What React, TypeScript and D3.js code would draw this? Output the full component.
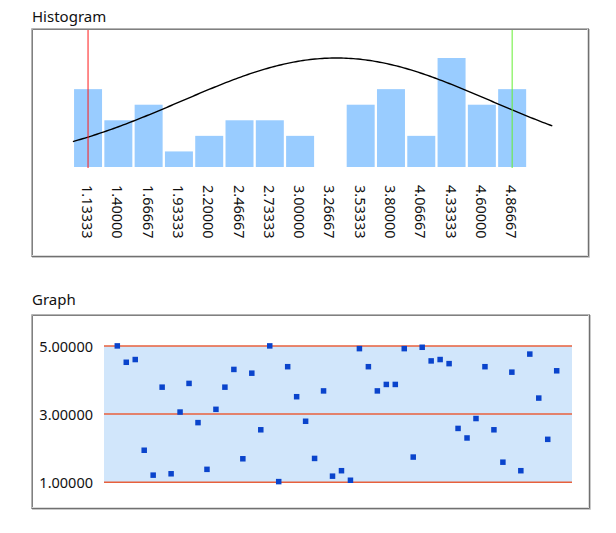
import React from "react";
import * as d3 from "d3";

// Histogram data
const binLabels = ["1.13333","1.40000","1.66667","1.93333","2.20000","2.46667","2.73333","3.00000","3.26667","3.53333","3.80000","4.06667","4.33333","4.60000","4.86667"];
const binCenters = [1.13333,1.4,1.66667,1.93333,2.2,2.46667,2.73333,3.0,3.26667,3.53333,3.8,4.06667,4.33333,4.6,4.86667];
const binCounts = [5,3,4,1,2,3,3,2,0,4,5,2,7,4,5];
const curveMean = 3.32;
const curveSd = 1.36;
const curveRange = [1.0, 5.22];
const lowerLimit = 1.13333;
const upperLimit = 4.86667;

// Graph data
const graphValues = [5.00,4.52,4.60,1.94,1.21,3.79,1.25,3.06,3.90,2.75,
  1.38,3.14,3.79,4.31,1.69,4.20,2.54,5.00,1.02,4.39,
  3.51,2.79,1.70,3.68,1.18,1.34,1.06,4.92,4.39,3.68,
  3.87,3.87,4.92,1.74,4.96,4.56,4.60,4.48,2.58,2.30,
  2.87,4.39,2.54,1.59,4.23,1.34,4.76,3.47,2.26,4.27];
const graphTicks = [1, 3, 5];
const graphTickLabels = ["1.00000", "3.00000", "5.00000"];

const FONT = "'Noto Sans', sans-serif";

function Panel({ x, y, w, h }: { x: number; y: number; w: number; h: number }) {
  return (
    <g>
      <rect x={x} y={y} width={w} height={h} fill="#ffffff" />
      <line x1={x - 0.5} y1={y - 0.5} x2={x + w + 0.5} y2={y - 0.5} stroke="#b4b4b4" />
      <line x1={x - 0.5} y1={y - 0.5} x2={x - 0.5} y2={y + h + 0.5} stroke="#b4b4b4" />
      <line x1={x + 0.5} y1={y + 0.5} x2={x + w - 0.5} y2={y + 0.5} stroke="#808080" />
      <line x1={x + 0.5} y1={y + 0.5} x2={x + 0.5} y2={y + h - 0.5} stroke="#808080" />
      <line x1={x + w - 0.5} y1={y + 0.5} x2={x + w - 0.5} y2={y + h - 0.5} stroke="#dcdcdc" />
      <line x1={x + 0.5} y1={y + h - 0.5} x2={x + w - 0.5} y2={y + h - 0.5} stroke="#dcdcdc" />
      <line x1={x + w + 0.5} y1={y - 0.5} x2={x + w + 0.5} y2={y + h + 0.5} stroke="#707070" />
      <line x1={x - 0.5} y1={y + h + 0.5} x2={x + w + 0.5} y2={y + h + 0.5} stroke="#707070" />
      <line x1={x + w + 1.5} y1={y} x2={x + w + 1.5} y2={y + h + 1.5} stroke="#c8c8c8" />
      <line x1={x} y1={y + h + 1.5} x2={x + w + 1.5} y2={y + h + 1.5} stroke="#c8c8c8" />
    </g>
  );
}

export default function App() {
  const W = 616, H = 533;

  const hx = d3.scaleLinear().domain([1.0, 5.0]).range([72.9, 527.3]);
  const hy = d3.scaleLinear().domain([0, 7]).range([167, 58]);
  const binW = 4 / 15;
  const maxCount = d3.max(binCounts) as number;
  const pdf = (v: number) => Math.exp(-0.5 * ((v - curveMean) / curveSd) ** 2);
  const curvePts = d3.range(0, 201).map((i) => curveRange[0] + (curveRange[1] - curveRange[0]) * i / 200);
  const curve = d3.line<number>().x((v) => hx(v)).y((v) => hy(pdf(v) * maxCount));

  const gx = d3.scaleLinear().domain([0, graphValues.length - 1]).range([117.3, 556.7]);
  const gy = d3.scaleLinear().domain([1, 5]).range([482.3, 345.9]);
  const plotL = 104, plotR = 572;
  const sq = 5.5;

  return (
    <svg width={W} height={H} style={{ position: "absolute", left: 0, top: 0, fontFamily: FONT }}>
      <rect width={W} height={H} fill="#ffffff" />
      {/* Histogram */}
      <text x={32} y={22} fontSize={15} fill="#111111">Histogram</text>
      <Panel x={32} y={29} w={556} h={227} />
      {binCounts.map((c, i) => {
        const x0 = hx(binCenters[i] - binW / 2) + 1.15;
        const x1 = hx(binCenters[i] + binW / 2) - 1.15;
        return c > 0 ? (
          <rect key={i} x={x0} y={hy(c)} width={x1 - x0} height={hy(0) - hy(c)} fill="#99ccff" />
        ) : null;
      })}
      <path d={curve(curvePts) || ""} fill="none" stroke="#000000" strokeWidth={1.4} />
      <line x1={hx(lowerLimit)} x2={hx(lowerLimit)} y1={30} y2={168} stroke="#ff1a1a" strokeWidth={1} />
      <line x1={hx(upperLimit)} x2={hx(upperLimit)} y1={30} y2={168} stroke="#66ee33" strokeWidth={1} />
      {binLabels.map((l, i) => (
        <text key={l} transform={`translate(${hx(binCenters[i])},185) rotate(90)`} fontSize={14.5}
          dominantBaseline="central" textAnchor="start" fill="#111111">{l}</text>
      ))}

      {/* Graph */}
      <text x={32} y={305} fontSize={15} fill="#111111">Graph</text>
      <Panel x={32} y={315} w={557} h={193} />
      <rect x={plotL} y={gy(5)} width={plotR - plotL} height={gy(1) - gy(5)} fill="#d1e6fb" />
      {graphTicks.map((t, i) => (
        <g key={t}>
          <line x1={plotL} x2={plotR} y1={gy(t)} y2={gy(t)} stroke="#e8603c" strokeWidth={1.5} />
          <text x={93} y={gy(t)} fontSize={14.5} textAnchor="end" dominantBaseline="central" fill="#111111">{graphTickLabels[i]}</text>
        </g>
      ))}
      {graphValues.map((v, i) => (
        <rect key={i} x={gx(i) - sq / 2} y={gy(v) - sq / 2} width={sq} height={sq} fill="#0a44cc" />
      ))}
    </svg>
  );
}
